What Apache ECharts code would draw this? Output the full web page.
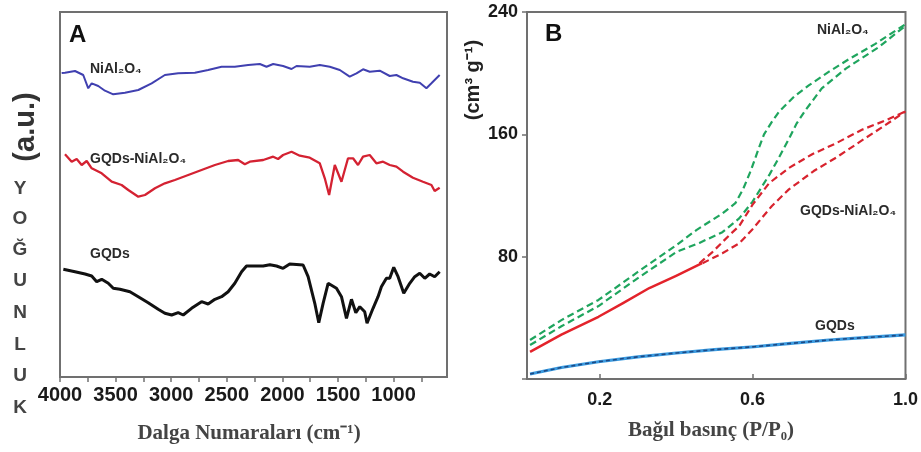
<!DOCTYPE html>
<html>
<head>
<meta charset="utf-8">
<script src="https://cdn.jsdelivr.net/npm/echarts@6/dist/echarts.min.js"></script>
<style>
  html, body { margin: 0; padding: 0; background: #fff; }
  #chart { width: 921px; height: 452px; }
</style>
</head>
<body>
<div id="chart"></div>
<script>
// Panel A: FTIR spectra (wavenumber cm-1, intensity a.u.)
const wnNi = [3985, 3955, 3865, 3791, 3746, 3715, 3656, 3596, 3521, 3416, 3296, 3176, 3057, 2937, 2787, 2668, 2547, 2428, 2308, 2203, 2143, 2083, 1994, 1918, 1873, 1754, 1664, 1574, 1484, 1395, 1334, 1275, 1215, 1125, 1035, 975, 915, 826, 765, 705, 660, 586];
const intNi = [304, 304.3, 306, 302, 288.7, 293.7, 291, 286.3, 282.7, 284.3, 287, 293.7, 302, 303.7, 304.3, 307, 310.3, 310.3, 312, 313, 310.3, 313, 311, 308, 311, 310.3, 312, 310.3, 307, 300.3, 303.7, 307.7, 305.3, 306.3, 301, 302, 298.7, 295.3, 294.3, 288.7, 293.7, 302];

const wnGN = [3955, 3895, 3850, 3805, 3760, 3715, 3625, 3535, 3446, 3386, 3296, 3236, 3146, 3057, 2967, 2847, 2727, 2607, 2488, 2398, 2338, 2293, 2173, 2083, 2039, 1994, 1918, 1844, 1754, 1664, 1619, 1580, 1529, 1469, 1410, 1365, 1320, 1275, 1215, 1155, 1095, 1035, 975, 915, 826, 736, 660, 631, 586];
const intGN = [222.7, 215.3, 218, 212, 216, 208.7, 203.7, 195.3, 192, 187, 180.3, 182, 188.7, 193.7, 197, 202, 207, 212, 216, 217, 212.7, 215.3, 217, 220.3, 218, 222, 225.3, 221.3, 219.3, 213.7, 198.7, 182, 212, 195.3, 218.7, 218.7, 212, 220.3, 222, 213.7, 215.3, 212, 210.3, 205.3, 199.3, 195.3, 192, 186, 189.3];

const wnG = [3970, 3865, 3775, 3715, 3670, 3625, 3566, 3521, 3461, 3371, 3296, 3207, 3117, 3057, 2996, 2937, 2892, 2817, 2727, 2668, 2607, 2547, 2488, 2428, 2367, 2323, 2263, 2173, 2113, 2053, 1994, 1934, 1814, 1769, 1709, 1673, 1634, 1589, 1514, 1469, 1424, 1379, 1340, 1304, 1260, 1239, 1185, 1140, 1110, 1065, 1035, 999, 960, 909, 855, 810, 765, 720, 676, 631, 586];
const intG = [107.7, 105.3, 103, 101, 95.3, 97.7, 93.7, 88.7, 87.7, 85.3, 80.3, 74.3, 67.7, 63.7, 62, 64.3, 62, 68.7, 75.3, 73, 77.7, 80.3, 85.3, 93.7, 105.3, 111, 111, 111, 112.3, 111, 108.7, 113, 112, 100.3, 73.7, 54.3, 73.7, 93.7, 88.7, 80.3, 58.7, 77.7, 64.3, 70.3, 65.3, 53.7, 68.7, 80.3, 90.3, 98.7, 98.7, 109.7, 100.3, 83.7, 93.7, 100.3, 103.7, 98.7, 103, 100.3, 105.3];

const wnTicks = [4000, 3500, 3000, 2500, 2000, 1500, 1000];
const wnMinorTicks = [750, 1000, 1250, 1500, 1750, 2000, 2250, 2500, 2750, 3000, 3250, 3500, 3750, 4000];

// Panel B: N2 isotherms (P/P0, cm3 g-1)
const ppNiDes = [0.018, 0.1, 0.197, 0.3, 0.401, 0.453, 0.52, 0.555, 0.575, 0.595, 0.615, 0.63, 0.65, 0.67, 0.71, 0.747, 0.80, 0.851, 0.92, 1.0];
const vNiDes = [25.5, 38.5, 51.7, 70, 87.6, 97.4, 108, 115, 124, 136, 150, 160, 168, 175, 185, 192, 201, 209, 219, 232];
const ppNiAds = [0.018, 0.1, 0.197, 0.3, 0.401, 0.461, 0.521, 0.565, 0.6, 0.625, 0.645, 0.665, 0.68, 0.695, 0.715, 0.739, 0.781, 0.844, 0.93, 1.0];
const vNiAds = [22.2, 34.5, 47.7, 66, 83.1, 89, 96, 105, 116, 126, 134, 143, 150, 157, 167, 176, 190, 203, 217, 231];

const ppGNLow = [0.018, 0.1, 0.197, 0.26, 0.33, 0.4, 0.468];
const vGNLow = [17.7, 29, 40.7, 49.5, 59.5, 67.5, 75.7];
const ppGNDes = [0.461, 0.495, 0.539, 0.565, 0.6, 0.643, 0.695, 0.756, 0.817, 0.886, 0.947, 1.0];
const vGNDes = [75.7, 83, 94, 100, 114, 128, 138, 147, 154, 163, 169, 175];
const ppGNAds = [0.469, 0.521, 0.565, 0.6, 0.65, 0.695, 0.76, 0.82, 0.886, 0.947, 1.0];
const vGNAds = [75.7, 82.2, 88.7, 98, 113, 124, 136, 145, 156, 166, 175];

const ppG = [0.018, 0.1, 0.197, 0.3, 0.401, 0.5, 0.604, 0.7, 0.8, 0.9, 1.0];
const vG = [3.3, 7.5, 11.3, 14.5, 17, 19.2, 21.1, 23.3, 25.5, 27.2, 28.8];

const ppTicks = [0.2, 0.6, 1.0];

const zip = (xs, ys) => xs.map((x, i) => [x, ys[i]]);

const SANS = '"Liberation Sans", Arial, sans-serif';
const SERIF = '"Liberation Serif", "Times New Roman", serif';

const chart = echarts.init(document.getElementById('chart'));

function txt(text, x, y, size, opts) {
    opts = opts || {};
    return {
        type: 'text', x: x, y: y, rotation: opts.rot || 0, z: 100,
        style: {
            text: text,
            fill: opts.color || '#2a2a2a',
            font: 'bold ' + size + 'px ' + (opts.family || SANS),
            textAlign: opts.align || 'left',
            textVerticalAlign: 'middle'
        }
    };
}

const vertLetters = ['Y', 'O', 'Ğ', 'U', 'N', 'L', 'U', 'K'];
const vertY = [189, 219, 250, 281, 313, 345, 376, 408];

const graphics = [
    txt('A', 69, 35, 24, { color: '#111' }),
    txt('B', 545, 34, 24, { color: '#111' }),
    txt('NiAl₂O₄', 90, 69, 14),
    txt('GQDs-NiAl₂O₄', 90, 159, 14),
    txt('GQDs', 90, 254, 14),
    txt('NiAl₂O₄', 817, 30, 14),
    txt('GQDs-NiAl₂O₄', 800, 211, 14),
    txt('GQDs', 815, 326, 14),
    txt('(a.u.)', 26, 127, 29, { align: 'center', rot: Math.PI / 2, color: '#333' }),
    txt('(cm³ g⁻¹)', 473, 80, 20, { align: 'center', rot: Math.PI / 2, color: '#222' }),
    txt('Dalga Numaraları (cm⁻¹)', 249, 434, 21, { align: 'center', family: SERIF, color: '#444' }),
    txt('Bağıl basınç (P/P₀)', 711, 431, 21, { align: 'center', family: SERIF, color: '#444' })
].concat(vertLetters.map((c, i) => txt(c, 20, vertY[i], 19, { align: 'center', color: '#444' })));

const isoLine = (name, data, color, width, type) => ({
    name: name, type: 'line', xAxisIndex: 1, yAxisIndex: 1,
    data: data, showSymbol: false,
    lineStyle: { color: color, width: width, type: type, join: 'round' }
});

chart.setOption({
    animation: false,
    backgroundColor: '#fff',
    graphic: graphics,
    grid: [
        { left: 60, top: 12, width: 387, height: 365, show: true, borderColor: '#707070', borderWidth: 2 },
        { left: 527, top: 12, width: 380, height: 367, show: true, borderColor: '#707070', borderWidth: 2 }
    ],
    xAxis: [
        {
            type: 'value', gridIndex: 0, min: 520, max: 4000, inverse: true,
            axisLine: { show: false },
            splitLine: { show: false },
            axisTick: {
                show: true, length: 5, inside: false,
                lineStyle: { color: '#707070', width: 1.5 },
                customValues: wnMinorTicks
            },
            axisLabel: {
                customValues: wnTicks, margin: 8,
                formatter: v => String(v),
                color: '#1a1a1a', fontSize: 20, fontWeight: 'bold', fontFamily: SANS
            }
        },
        {
            type: 'value', gridIndex: 1, min: 0.01, max: 1.0,
            axisLine: { show: false },
            splitLine: { show: false },
            axisTick: {
                show: true, length: 5, inside: true,
                lineStyle: { color: '#707070', width: 1.5 },
                customValues: ppTicks
            },
            axisLabel: {
                customValues: ppTicks, margin: 12,
                formatter: v => v.toFixed(1),
                color: '#1a1a1a', fontSize: 18, fontWeight: 'bold', fontFamily: SANS
            }
        }
    ],
    yAxis: [
        {
            type: 'value', gridIndex: 0, min: 0, max: 365,
            axisLine: { show: false }, axisTick: { show: false },
            axisLabel: { show: false }, splitLine: { show: false }
        },
        {
            type: 'value', gridIndex: 1, min: 0, max: 240, interval: 80,
            axisLine: { show: false },
            splitLine: { show: false },
            axisTick: { show: true, length: 5, lineStyle: { color: '#707070', width: 1.5 } },
            axisLabel: {
                formatter: v => (v === 0 ? '' : String(v)), margin: 9,
                color: '#1a1a1a', fontSize: 18, fontWeight: 'bold', fontFamily: SANS
            }
        }
    ],
    series: [
        {
            name: 'NiAl2O4 FTIR', type: 'line', xAxisIndex: 0, yAxisIndex: 0,
            data: zip(wnNi, intNi), showSymbol: false,
            lineStyle: { color: '#4040b0', width: 2 }
        },
        {
            name: 'GQDs-NiAl2O4 FTIR', type: 'line', xAxisIndex: 0, yAxisIndex: 0,
            data: zip(wnGN, intGN), showSymbol: false,
            lineStyle: { color: '#d42232', width: 2.3 }
        },
        {
            name: 'GQDs FTIR', type: 'line', xAxisIndex: 0, yAxisIndex: 0,
            data: zip(wnG, intG), showSymbol: false,
            lineStyle: { color: '#111', width: 3 }
        },
        isoLine('NiAl2O4 des', zip(ppNiDes, vNiDes), '#1fa55e', 2.2, [7, 4]),
        isoLine('NiAl2O4 ads', zip(ppNiAds, vNiAds), '#1fa55e', 2.2, [7, 4]),
        isoLine('GQDs-NiAl2O4 low', zip(ppGNLow, vGNLow), '#e3232b', 2.5, 'solid'),
        isoLine('GQDs-NiAl2O4 des', zip(ppGNDes, vGNDes), '#d8232e', 2.2, [7, 4]),
        isoLine('GQDs-NiAl2O4 ads', zip(ppGNAds, vGNAds), '#d8232e', 2.2, [7, 4]),
        isoLine('GQDs iso', zip(ppG, vG), '#3b9be0', 3.2, 'solid'),
        isoLine('GQDs iso des', zip(ppG, vG), '#1d4a86', 1.6, [4, 3])
    ]
});
</script>
</body>
</html>
